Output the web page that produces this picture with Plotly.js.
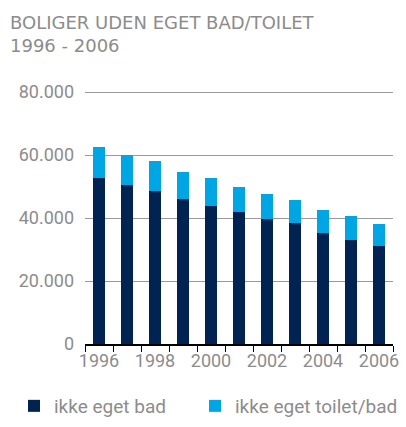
<!DOCTYPE html>
<html>
<head>
<meta charset="utf-8">
<script src="https://cdn.plot.ly/plotly-3.0.1.min.js"></script>
<style>html,body{margin:0;padding:0;background:#fff;}#chart{width:406px;height:427px;}</style>
</head>
<body>
<div id="chart"></div>
<script>
var years = [1996, 1997, 1998, 1999, 2000, 2001, 2002, 2003, 2004, 2005, 2006];
var ikkeEgetBad = [52800, 50500, 48600, 46100, 43800, 42000, 39700, 38300, 35300, 33100, 31200];
var ikkeEgetToiletBad = [9800, 9400, 9400, 8500, 8900, 7900, 8000, 7500, 7200, 7500, 7000];
var xTickLabels = ['1996', '1998', '2000', '2002', '2004', '2006'];
var xTickVals = [1996, 1998, 2000, 2002, 2004, 2006];
var yTickVals = [0, 20000, 40000, 60000, 80000];
var seriesNames = ['ikke eget bad', 'ikke eget toilet/bad'];
var titleLines = ['BOLIGER UDEN EGET BAD/TOILET', '1996 - 2006'];

var FONT = 'Roboto, sans-serif';
var TFONT = '"DejaVu Sans", sans-serif';
var GRAY = '#8c8c8c';

var traces = [
  {type: 'bar', x: years, y: ikkeEgetBad, name: seriesNames[0], legend: 'legend',
   marker: {color: '#002352', line: {width: 0}}, width: 0.45},
  {type: 'bar', x: years, y: ikkeEgetToiletBad, name: seriesNames[1], legend: 'legend2',
   marker: {color: '#00a6e3', line: {width: 0}}, width: 0.45}
];

var boundaries = years.map(function(y){return y - 0.5;}).concat([years[years.length-1] + 0.5]);

// plot area: top 89px, bottom 344px (height 255)
var PT = 89, PB = 344, PH = PB - PT;
function py(p){ return (PB - p) / PH; }

var legendBase = {orientation: 'h', xanchor: 'left', y: 21/427, yanchor: 'middle',
  xref: 'container', yref: 'container', bgcolor: 'rgba(0,0,0,0)',
  font: {family: FONT, size: 19, color: GRAY}, itemclick: false, itemdoubleclick: false};

var layout = {
  width: 406, height: 427,
  barmode: 'stack',
  separators: ',.',
  paper_bgcolor: '#fff', plot_bgcolor: '#fff',
  font: {family: FONT, color: GRAY, size: 18},
  margin: {l: 85, r: 13, t: PT, b: 427 - PB, pad: 0},
  annotations: [
    {text: titleLines[0], xref: 'paper', yref: 'paper', x: (8 - 85) / 308, xanchor: 'left',
     y: py(22), yanchor: 'middle', showarrow: false, font: {family: TFONT, size: 18, color: GRAY}},
    {text: titleLines[1], xref: 'paper', yref: 'paper', x: (8 - 85) / 308, xanchor: 'left',
     y: py(46), yanchor: 'middle', showarrow: false, font: {family: TFONT, size: 18, color: GRAY}}
  ],
  xaxis: {
    range: [1995.5, 2006.5], tickmode: 'array', tickvals: xTickVals, ticktext: xTickLabels,
    ticks: '', showgrid: false, zeroline: false, showline: true, linecolor: '#000', linewidth: 1.5,
    tickfont: {family: FONT, size: 18, color: GRAY},
    minor: {tickmode: 'array', tickvals: boundaries, ticks: 'outside', ticklen: 6, tickwidth: 1, tickcolor: '#000', showgrid: false},
    fixedrange: true
  },
  yaxis: {
    range: [0, 80000 * PH / 252], tickmode: 'array', tickvals: yTickVals,
    tickformat: ',d', showgrid: true, gridcolor: '#9a9a9a', gridwidth: 1, zeroline: false,
    ticks: '', showline: false, ticklabelstandoff: 10,
    tickfont: {family: FONT, size: 18, color: GRAY}, fixedrange: true
  },
  showlegend: true,
  legend: Object.assign({}, legendBase, {x: 14/406}),
  legend2: Object.assign({}, legendBase, {x: 195/406})
};

Plotly.newPlot('chart', traces, layout, {displayModeBar: false, staticPlot: true});
</script>
</body>
</html>
